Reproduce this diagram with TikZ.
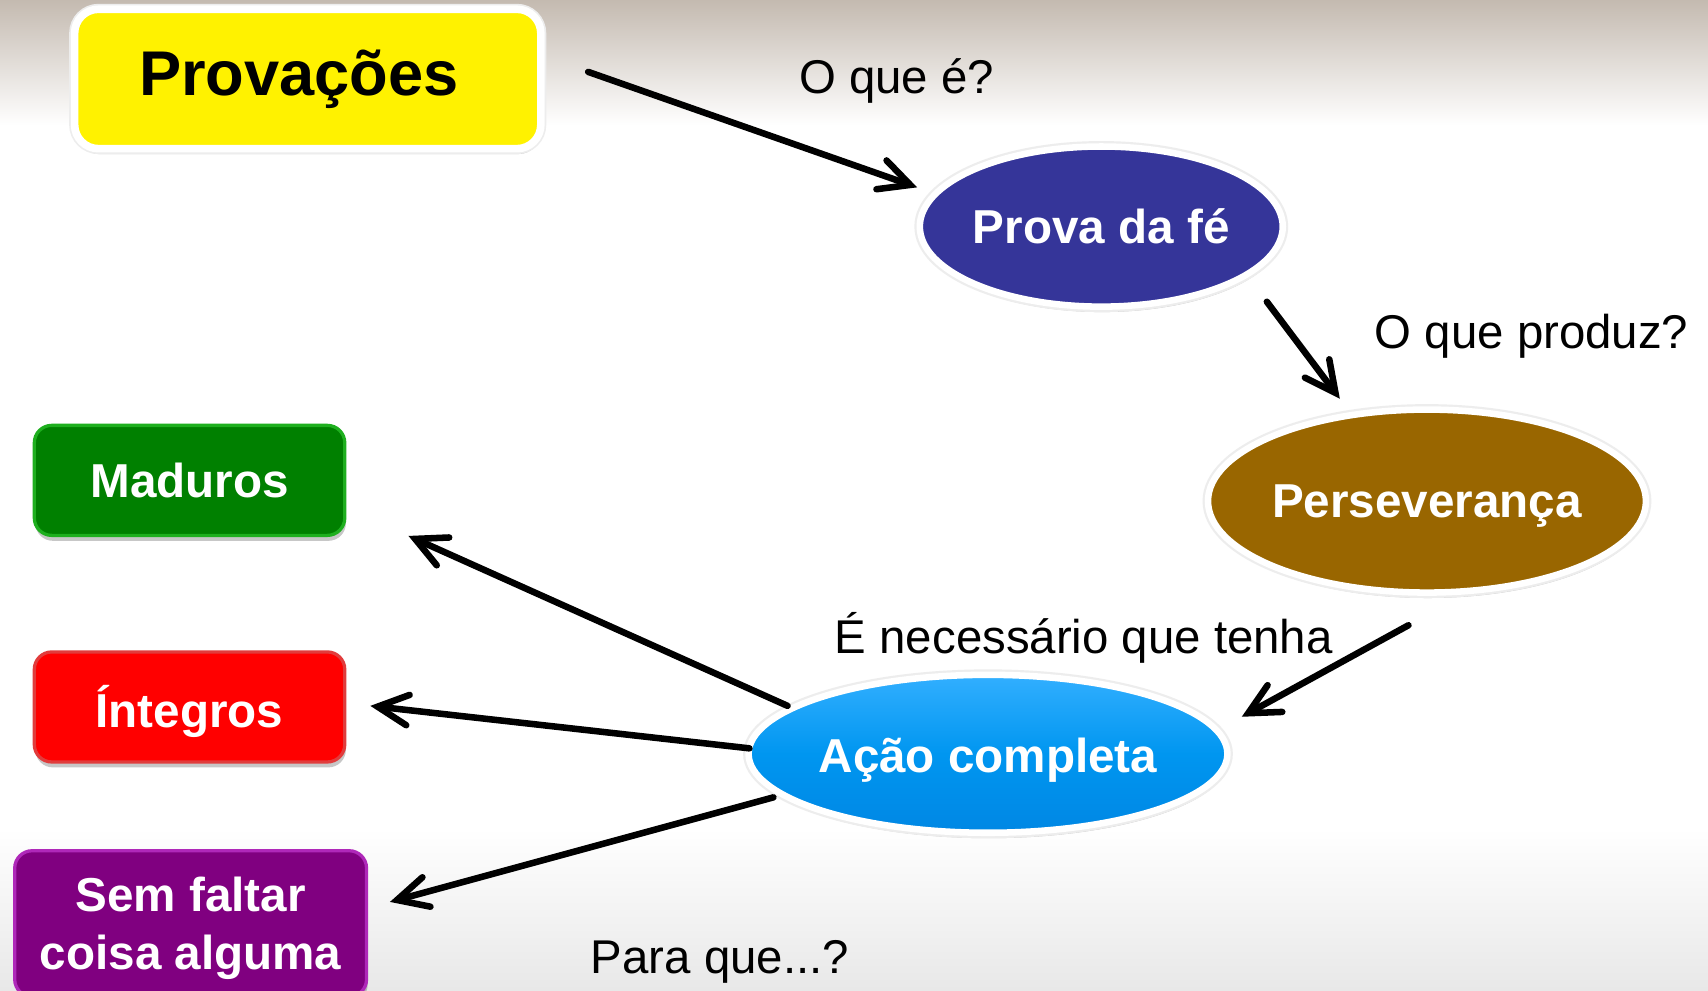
\documentclass[tikz,border=0pt]{standalone}
\usepackage{fontspec}
\setmainfont{Liberation Sans}
\usetikzlibrary{arrows.meta,shapes.geometric,shadows}
\definecolor{topbg}{RGB}{196,186,176}
\definecolor{provblue}{RGB}{53,53,153}
\definecolor{persbrown}{RGB}{153,102,0}
\definecolor{acaoA}{RGB}{50,175,255}
\definecolor{acaoB}{RGB}{0,150,240}
\definecolor{acaoC}{RGB}{0,135,228}
\definecolor{madfill}{RGB}{0,128,0}
\definecolor{madline}{RGB}{30,175,30}
\definecolor{intline}{RGB}{225,60,60}
\definecolor{semfill}{RGB}{128,0,128}
\definecolor{semline}{RGB}{175,40,185}
\newcommand{\lowertext}[2]{\raisebox{-#1}[\height][\depth]{#2}}
\tikzset{
  sh/.style={drop shadow={shadow xshift=1pt,shadow yshift=-5pt,opacity=.22,fill=black}},
  rim/.style={preaction={draw=black!7,line width=10pt}},
  ovalnode/.style={ellipse,inner sep=0pt,draw=white,line width=6pt,sh,rim,text=white,
    font=\bfseries\fontsize{43.7pt}{52pt}\selectfont},
  boxnode/.style={rectangle,rounded corners=16pt,inner sep=0pt,line width=3pt,sh,text=white,
    font=\bfseries\fontsize{43.7pt}{53pt}\selectfont,align=center},
  lbl/.style={inner sep=0pt,text=black,font=\fontsize{43.5pt}{52pt}\selectfont},
  arr/.style={line width=6pt,black,-{Straight Barb[length=28pt,width=28pt,line width=6pt,line cap=round]},line cap=round}
}
\begin{document}
\begin{tikzpicture}[x=1pt,y=-1pt]
\useasboundingbox (0,0) rectangle (1568,909);
\fill[white] (0,0) rectangle (1568,909);
\shade[top color=topbg,bottom color=white] (0,0) rectangle (1568,115);
\shade[top color=white,bottom color=black!9] (0,760) rectangle (1568,909);

% nodes
\node[rectangle,rounded corners=22pt,fill=yellow,draw=white,line width=7pt,sh,rim,
  minimum width=428pt,minimum height=128pt,inner sep=0pt,
  font=\bfseries\fontsize{58pt}{66pt}\selectfont] (prov) at (282.5,72.5) {\kern-16pt Provações};

\node[ovalnode,fill=provblue,minimum width=326pt,minimum height=147pt] (prova) at (1011,208) {Prova da fé};
\node[ovalnode,fill=persbrown,minimum width=398pt,minimum height=168pt] (pers) at (1310,460) {\lowertext{5pt}{Perseverança}};
\node[ovalnode,top color=acaoA,bottom color=acaoC,middle color=acaoB,minimum width=429pt,minimum height=145pt] (acao) at (907,692) {\lowertext{6pt}{Ação completa}};

\node[boxnode,fill=madfill,draw=madline,minimum width=285pt,minimum height=101pt] (mad) at (174,441) {Maduros};
\node[boxnode,fill=red,draw=intline,minimum width=285pt,minimum height=101pt] (int) at (174,649) {\lowertext{4pt}{Íntegros}};
\node[boxnode,fill=semfill,draw=semline,minimum width=323pt,minimum height=134pt] (sem) at (175,848)
  {\lowertext{5pt}{\begin{tabular}{@{}c@{}}Sem faltar\\coisa alguma\end{tabular}}};

% labels
\node[lbl] (l1) at (823,74) {O que é?};
\node[lbl] (l2) at (1406,309) {O que produz?};
\node[lbl] (l3) at (995,586) {É necessário que tenha};
\node[lbl] (l4) at (661,883) {Para que...?};

% connectors
\draw[arr] ([shift={(257.5,-6.5)}]prov.center) -- ([shift={(-169,-36)}]prova.center);
\draw[arr] ([shift={(152,69)}]prova.center) -- ([shift={(-80,-94)}]pers.center);
\draw[arr] ([shift={(-17,114)}]pers.center) -- ([shift={(233,-34)}]acao.center);
\draw[arr] ([shift={(-184,-44)}]acao.center) -- ([shift={(201,51)}]mad.center);
\draw[arr] ([shift={(-219,-5)}]acao.center) -- ([shift={(166,-1)}]int.center);
\draw[arr] ([shift={(-197,40)}]acao.center) -- ([shift={(183,-20)}]sem.center);
\end{tikzpicture}
\end{document}
